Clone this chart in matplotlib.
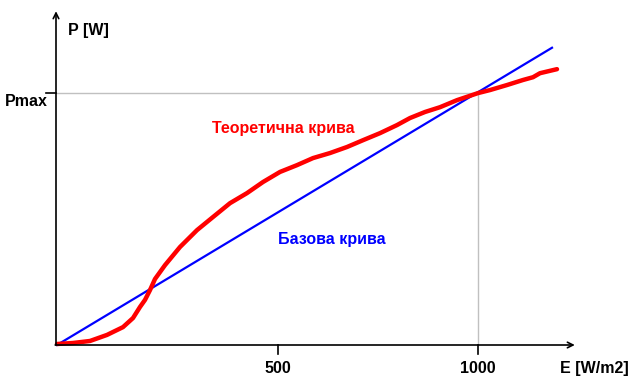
import matplotlib.pyplot as plt

# теоретична крива (E [W/m2], P/Pmax)
E_theor = [-52.5, -12.5, 30, 72.5, 112.5, 137.5, 155, 167.5, 180, 192.5, 217.5,
           255, 297.5, 337.5, 380, 422.5, 462.5, 505, 547.5, 587.5, 630, 672.5,
           712.5, 755, 797.5, 830, 867.5, 905, 947.5, 1000, 1030, 1072.5, 1112.5,
           1137.5, 1155, 1197.5]
P_theor = [0.004, 0.008, 0.016, 0.040, 0.071, 0.107, 0.151, 0.179, 0.218, 0.262,
           0.317, 0.389, 0.456, 0.508, 0.563, 0.603, 0.647, 0.687, 0.714, 0.742,
           0.762, 0.786, 0.813, 0.841, 0.873, 0.901, 0.925, 0.944, 0.972, 1.0,
           1.012, 1.032, 1.052, 1.063, 1.079, 1.095]

# базова крива
E_base = [-52.5, 1185]
P_base = [0, 1.18]

x_ticks = [500, 1000]
E_nom = 1000
P_max = 1.0

fig = plt.figure(figsize=(6.38, 3.9), dpi=100)
ax = fig.add_axes([56/638, 45/390, 518/638, 330/390])
ax.set_xlim(-55, 1240)
ax.set_ylim(0, 1.31)
ax.axis('off')

font = dict(family='Liberation Sans', weight='bold', size=11.5)

# помощни сиви линии
ax.plot([-55, E_nom], [P_max, P_max], color='#c0c0c0', lw=1, clip_on=False)
ax.plot([E_nom, E_nom], [0, P_max], color='#c0c0c0', lw=1, clip_on=False)

# оси със стрелки
ax.annotate('', xy=(1242, 0), xytext=(-57, 0),
            arrowprops=dict(arrowstyle='->', lw=1.2, color='black',
                            shrinkA=0, shrinkB=0), annotation_clip=False)
ax.annotate('', xy=(-55, 1.325), xytext=(-55, 0),
            arrowprops=dict(arrowstyle='->', lw=1.2, color='black',
                            shrinkA=0, shrinkB=0), annotation_clip=False)

# деления
ax.plot([-80, -55], [P_max, P_max], color='black', lw=1.2, clip_on=False)
for t in x_ticks:
    ax.plot([t, t], [0, -0.035], color='black', lw=1.2, clip_on=False)
    ax.text(t, -0.095, str(t), ha='center', va='center', **font)

ax.plot(E_base, P_base, color='#0000ff', lw=1.6, clip_on=False)
ax.plot(E_theor, P_theor, color='#ff0000', lw=3.2, clip_on=False,
        solid_capstyle='round')

ax.text(-25, 1.25, 'P [W]', ha='left', va='center', **font)
ax.text(-75, 0.968, 'Pmax', ha='right', va='center', **font)
ax.text(1205, -0.095, 'E [W/m2]', ha='left', va='center', **font)
ax.text(514, 0.861, 'Теоретична крива', ha='center', va='center',
        color='#ff0000', **font)
ax.text(635, 0.417, 'Базова крива', ha='center', va='center',
        color='#0000ff', **font)

fig.savefig('out.png', dpi=100)
